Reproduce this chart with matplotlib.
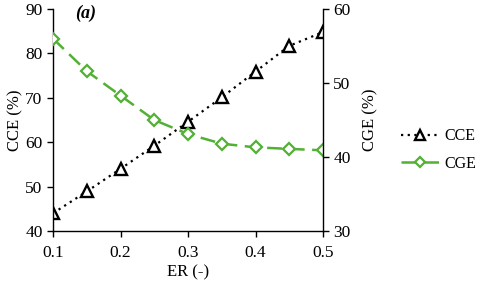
import matplotlib
matplotlib.use("Agg")
import matplotlib.pyplot as plt

er = [0.1, 0.15, 0.2, 0.25, 0.3, 0.35, 0.4, 0.45, 0.5]
cce = [44.0, 48.9, 54.0, 59.2, 64.6, 70.1, 75.9, 81.7, 84.8]
cge = [56.0, 51.6, 48.3, 45.0, 43.1, 41.8, 41.3, 41.1, 40.9]

green = "#52b034"
plt.rcParams['font.family'] = ['Liberation Serif', 'DejaVu Serif']
plt.rcParams['font.size'] = 12.5

fig = plt.figure(figsize=(4.8, 2.88), dpi=100)
ax = fig.add_axes([53/480, 1-231/288, 270/480, 222/288])
ax2 = ax.twinx()

l1, = ax.plot(er, cce, linestyle=(0, (1, 2)), color='black', lw=1.6,
              marker='^', markersize=8.5, markerfacecolor='white',
              markeredgecolor='black', markeredgewidth=1.7, label='CCE')
l2, = ax2.plot(er, cge, linestyle=(0, (6, 3)), color=green, lw=1.8,
               marker='D', markersize=6.5, markerfacecolor='white',
               markeredgecolor=green, markeredgewidth=1.6, label='CGE')

ax.set_xlim(0.1, 0.5)
ax.set_ylim(40, 90)
ax2.set_ylim(30, 60)
ax.set_xticks([0.1, 0.2, 0.3, 0.4, 0.5])
ax.set_yticks([40, 50, 60, 70, 80, 90])
ax2.set_yticks([30, 40, 50, 60])

for a in (ax, ax2):
    a.spines['top'].set_visible(False)
ax.spines['right'].set_visible(False)
ax2.spines['left'].set_visible(False)
ax2.spines['bottom'].set_visible(False)
for a in (ax, ax2):
    for s in a.spines.values():
        s.set_linewidth(1.0)
ax.tick_params(direction='out', length=4, width=1.0, labelsize=12.5)
ax2.tick_params(direction='out', length=4, width=1.0, labelsize=12.5)
ax.tick_params(axis='x', pad=6)

ax.set_xlabel('ER (-)', fontsize=12)
ax.set_ylabel('CCE (%)', fontsize=12)
ax2.set_ylabel('CGE (%)', fontsize=12, labelpad=8)
ax.yaxis.set_label_coords(-0.111, 0.5)
ax.xaxis.set_label_coords(0.5, -0.149)

ax.text(0.133, 88.0, '(a)', fontsize=13, fontweight='bold', fontstyle='italic')

fig.legend([l1, l2], ['CCE', 'CGE'], loc='center left',
           bbox_to_anchor=(401/480, 1-150/288), frameon=False,
           fontsize=11.5, handlelength=2.4, handletextpad=0.3,
           labelspacing=0.7, borderpad=0, borderaxespad=0, markerscale=0.8)

fig.savefig('out.png', dpi=100)
